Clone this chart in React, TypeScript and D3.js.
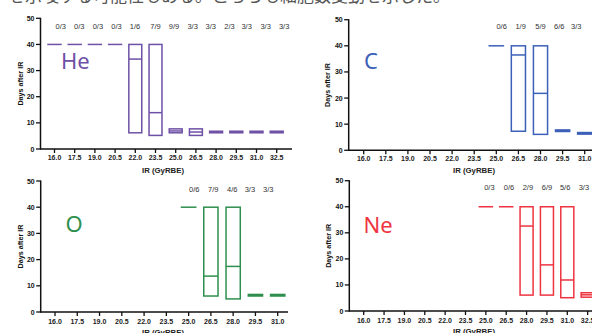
import React from "react";
import * as d3 from "d3";

// ---- data ----
const doses = ["16.0", "17.5", "19.0", "20.5", "22.0", "23.5", "25.0", "26.5", "28.0", "29.5", "31.0", "32.5"];

const heGroups = doses;
const heMin = [40, 40, 40, 40, 6.2, 5.2, 6.2, 5.2, 6.2, 6.2, 6.2, 6.2];
const heMed = [40, 40, 40, 40, 34.4, 13.9, 6.9, 6.5, 6.5, 6.5, 6.5, 6.5];
const heMax = [40, 40, 40, 40, 40, 40, 7.7, 7.7, 6.8, 6.8, 6.8, 6.8];
const heFractions = ["0/3", "0/3", "0/3", "0/3", "1/6", "7/9", "9/9", "3/3", "3/3", "2/3", "3/3", "3/3", "3/3"];
const heFracDose = [16.46, 17.84, 19.22, 20.6, 21.98, 23.5, 24.87, 26.26, 27.6, 29.0, 30.27, 31.68, 33.05];

const cGroups = ["25.0", "26.5", "28.0", "29.5", "31.0"];
const cMin = [40, 7.3, 6.1, 7.2, 6.2];
const cMed = [40, 36.5, 21.8, 7.5, 6.5];
const cMax = [40, 40, 40, 7.8, 6.8];
const cFractions = ["0/6", "1/9", "5/9", "6/6", "3/3"];
const cFracDose = [25.36, 26.65, 28.0, 29.27, 30.43];

const oGroups = ["25.0", "26.5", "28.0", "29.5", "31.0"];
const oMin = [40, 6.1, 5.0, 6.1, 6.1];
const oMed = [40, 13.7, 17.4, 6.4, 6.4];
const oMax = [40, 40, 40, 6.7, 6.7];
const oFractions = ["0/6", "7/9", "4/6", "3/3", "3/3"];
const oFracDose = [25.38, 26.66, 27.94, 29.13, 30.36];

const neGroups = ["25.0", "26.5", "28.0", "29.5", "31.0", "32.5"];
const neMin = [40, 40, 6.1, 6.1, 5.1, 5.3];
const neMed = [40, 40, 32.6, 17.7, 11.9, 6.2];
const neMax = [40, 40, 40, 40, 40, 7.0];
const neFractions = ["0/3", "0/6", "2/9", "6/9", "5/6", "3/3"];
const neFracDose = [25.26, 26.71, 28.1, 29.5, 30.84, 32.22];

const yTicks = [0, 10, 20, 30, 40, 50];
const yTitle = "Days after IR";
const xTitle = "IR (GyRBE)";
const headline = "を示唆する可能性もある。こちらも細胞数変動を示した。";

type PanelProps = {
  label: string;
  color: string;
  groups: string[];
  mins: number[];
  meds: number[];
  maxs: number[];
  fractions: string[];
  fracDose: number[];
  axisX: number;
  y50: number;
  y0: number;
  x16: number;
  step: number;
  axisEnd: number;
  yTitleX: number;
  xTitleX: number;
  xTitleY: number;
  fracY: number;
  tickLabelY: number;
  letterX: number;
  letterY: number;
  clipId: string;
  clipX: number;
  clipW: number;
};

const tickFont = "'Liberation Sans', Arial, sans-serif";

function Panel(p: PanelProps) {
  const y = d3.scaleLinear().domain([0, 50]).range([p.y0, p.y50]);
  const x = d3
    .scalePoint<string>()
    .domain(doses)
    .range([p.x16, p.x16 + (doses.length - 1) * p.step]);
  const xLin = d3
    .scaleLinear()
    .domain([16, 32.5])
    .range([p.x16, p.x16 + (doses.length - 1) * p.step]);
  const bw = p.step * 0.64;
  return (
    <g clipPath={`url(#${p.clipId})`}>
      <defs>
        <clipPath id={p.clipId}>
          <rect x={p.clipX} y={0} width={p.clipW} height={400} />
        </clipPath>
      </defs>
      {/* boxes */}
      {p.groups.map((g, i) => {
        const cx = x(g)!;
        const top = y(p.maxs[i]);
        const bot = y(p.mins[i]);
        const flat = Math.abs(bot - top) < 0.5;
        return (
          <g key={g} stroke={p.color} fill="none" strokeWidth={1.5}>
            {flat ? (
              <line x1={cx - bw / 2 - 0.75} x2={cx + bw / 2 + 0.75} y1={top} y2={top} />
            ) : (
              <>
                <rect x={cx - bw / 2} y={top} width={bw} height={bot - top} />
                <line x1={cx - bw / 2} x2={cx + bw / 2} y1={y(p.meds[i])} y2={y(p.meds[i])} />
              </>
            )}
          </g>
        );
      })}
      {/* fractions */}
      {p.fractions.map((f, i) => (
        <text
          key={i}
          x={xLin(p.fracDose[i])}
          y={p.fracY + 3}
          textAnchor="middle"
          fontSize={7.5}
          fill="#333"
          fontFamily={tickFont}
        >
          {f}
        </text>
      ))}
      {/* y axis */}
      <line x1={p.axisX} x2={p.axisX} y1={y(50) - 0.5} y2={y(0) + 0.75} stroke="#111" strokeWidth={1.5} />
      {yTicks.map((t) => (
        <g key={t}>
          <line x1={p.axisX - 4.5} x2={p.axisX} y1={y(t)} y2={y(t)} stroke="#111" strokeWidth={1.3} />
          <text
            x={p.axisX - 6}
            y={y(t) + 2.5}
            textAnchor="end"
            fontSize={7}
            fontWeight="bold"
            fill="#111"
            fontFamily={tickFont}
          >
            {t}
          </text>
        </g>
      ))}
      <text
        transform={`translate(${p.yTitleX + 2.5},${(p.y0 + p.y50) / 2}) rotate(-90)`}
        textAnchor="middle"
        fontSize={7.2}
        fontWeight="bold"
        fill="#111"
        fontFamily={tickFont}
      >
        {yTitle}
      </text>
      {/* x axis */}
      <line x1={p.axisX} x2={p.axisEnd} y1={y(0)} y2={y(0)} stroke="#111" strokeWidth={1.5} />
      {doses.map((d) => (
        <g key={d}>
          <line x1={x(d)!} x2={x(d)!} y1={y(0)} y2={y(0) + 4} stroke="#111" strokeWidth={1.3} />
          <text
            x={x(d)!}
            y={p.tickLabelY + 2.5}
            textAnchor="middle"
            fontSize={7}
            fontWeight="bold"
            fill="#222"
            fontFamily={tickFont}
          >
            {d}
          </text>
        </g>
      ))}
      <text
        x={p.xTitleX}
        y={p.xTitleY + 3}
        textAnchor="middle"
        fontSize={7.8}
        fontWeight="bold"
        fill="#222"
        fontFamily={tickFont}
      >
        {xTitle}
      </text>
      {/* big element label */}
      <text
        x={p.letterX}
        y={p.letterY + 7.5}
        fontSize={22}
        fill={p.color}
        fontFamily="'Noto Sans', 'Open Sans', sans-serif"
      >
        {p.label}
      </text>
    </g>
  );
}

export default function App() {
  return (
    <svg
      width={592}
      height={333}
      style={{ position: "absolute", left: 0, top: 0, background: "#fff" }}
    >
      <rect width={592} height={333} fill="#fff" />
      <text x={8} y={2} fontSize={17} fill="#555" fontFamily="'Noto Sans CJK JP', sans-serif">
        {headline}
      </text>
      <Panel
        label="He"
        color="#6e51a6"
        groups={heGroups}
        mins={heMin}
        meds={heMed}
        maxs={heMax}
        fractions={heFractions}
        fracDose={heFracDose}
        axisX={40.5}
        y50={18.3}
        y0={149}
        x16={54.5}
        step={20.2}
        axisEnd={292}
        yTitleX={20}
        xTitleX={163}
        xTitleY={170}
        fracY={26}
        tickLabelY={157}
        letterX={61}
        letterY={61}
        clipId="c1"
        clipX={0}
        clipW={296}
      />
      <Panel
        label="C"
        color="#3c60b8"
        groups={cGroups}
        mins={cMin}
        meds={cMed}
        maxs={cMax}
        fractions={cFractions}
        fracDose={cFracDose}
        axisX={348.7}
        y50={19.7}
        y0={150.3}
        x16={363.7}
        step={22.1}
        axisEnd={600}
        yTitleX={327.7}
        xTitleX={474}
        xTitleY={170}
        fracY={26}
        tickLabelY={158}
        letterX={364}
        letterY={61.7}
        clipId="c2"
        clipX={296}
        clipW={300}
      />
      <Panel
        label="O"
        color="#2f8f4e"
        groups={oGroups}
        mins={oMin}
        meds={oMed}
        maxs={oMax}
        fractions={oFractions}
        fracDose={oFracDose}
        axisX={40.7}
        y50={181}
        y0={312}
        x16={55}
        step={22.27}
        axisEnd={296}
        yTitleX={20}
        xTitleX={163}
        xTitleY={331.5}
        fracY={189}
        tickLabelY={321.5}
        letterX={65.5}
        letterY={224.3}
        clipId="c3"
        clipX={0}
        clipW={288}
      />
      <Panel
        label="Ne"
        color="#ee3440"
        groups={neGroups}
        mins={neMin}
        meds={neMed}
        maxs={neMax}
        fractions={neFractions}
        fracDose={neFracDose}
        axisX={349.3}
        y50={180.7}
        y0={311}
        x16={363.7}
        step={20.36}
        axisEnd={600}
        yTitleX={328}
        xTitleX={474}
        xTitleY={331}
        fracY={187.3}
        tickLabelY={320.7}
        letterX={363.5}
        letterY={225}
        clipId="c4"
        clipX={296}
        clipW={300}
      />
    </svg>
  );
}
